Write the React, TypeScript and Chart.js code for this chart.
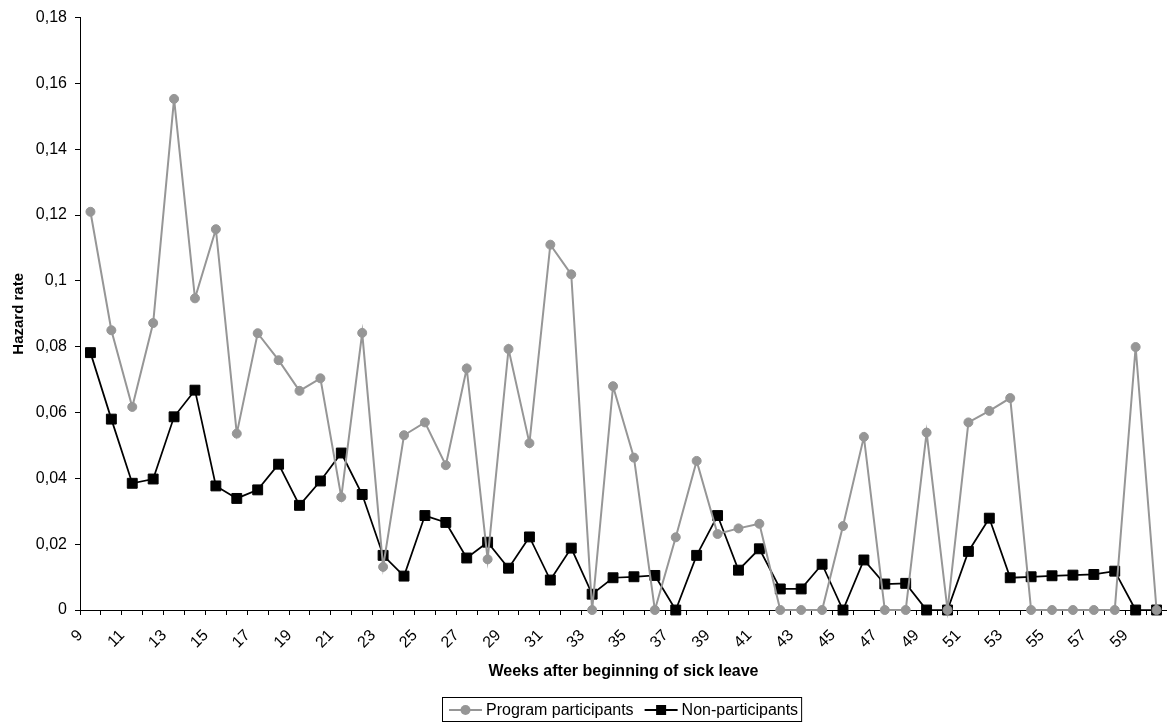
import React, { useEffect, useRef } from 'react';
import { Chart, registerables } from 'chart.js';

Chart.register(...registerables);

const weeks = [
  '9', '10', '11', '12', '13', '14', '15', '16', '17', '18', '19', '20', '21',
  '22', '23', '24', '25', '26', '27', '28', '29', '30', '31', '32', '33', '34',
  '35', '36', '37', '38', '39', '40', '41', '42', '43', '44', '45', '46', '47',
  '48', '49', '50', '51', '52', '53', '54', '55', '56', '57', '58', '59', '60',
];

const shownTicks = [
  '9', '11', '13', '15', '17', '19', '21', '23', '25', '27', '29', '31', '33',
  '35', '37', '39', '41', '43', '45', '47', '49', '51', '53', '55', '57', '59',
];

const participants = [
  0.121, 0.085, 0.0617, 0.0872, 0.1553, 0.0947, 0.1157, 0.0536, 0.0841, 0.0759,
  0.0666, 0.0704, 0.0343, 0.0842, 0.0131, 0.0531, 0.057, 0.044, 0.0734, 0.0154,
  0.0793, 0.0507, 0.111, 0.102, 0, 0.068, 0.0463, 0, 0.0221, 0.0453,
  0.0231, 0.0248, 0.0262, 0, 0, 0, 0.0255, 0.0526, 0, 0,
  0.0539, 0, 0.057, 0.0605, 0.0644, 0, 0, 0, 0, 0,
  0.0799, 0,
];

const nonParticipants = [
  0.0782, 0.058, 0.0385, 0.0398, 0.0587, 0.0668, 0.0377, 0.0339, 0.0365, 0.0443,
  0.0318, 0.0392, 0.0477, 0.0351, 0.0166, 0.0103, 0.0287, 0.0266, 0.0158, 0.0206,
  0.0127, 0.0222, 0.0091, 0.0188, 0.0048, 0.0098, 0.0101, 0.0105, 0, 0.0166,
  0.0287, 0.0121, 0.0186, 0.0064, 0.0064, 0.0139, 0, 0.0152, 0.0079, 0.0081,
  0, 0, 0.0178, 0.0279, 0.0098, 0.0101, 0.0104, 0.0106, 0.0108, 0.0118,
  0, 0,
];

const seriesNames = ['Program participants', 'Non-participants'];
const GRAY = '#969696';
const BLACK = '#000000';
const FONT = '"Liberation Sans", Arial, sans-serif';

const legendPlugin = {
  id: 'boxedLegend',
  afterDraw(chart: any) {
    const ctx = chart.ctx as CanvasRenderingContext2D;
    const area = chart.chartArea;
    ctx.save();
    ctx.font = `16px ${FONT}`;
    const lineW = 33;
    const gap = 4;
    const itemGap = 11;
    const w0 = ctx.measureText(seriesNames[0]).width;
    const w1 = ctx.measureText(seriesNames[1]).width;
    const total = lineW + gap + w0 + itemGap + lineW + gap + w1;
    const cx = (area.left + area.right) / 2;
    let x = Math.round(cx - total / 2);
    const cy = 710;
    ctx.strokeStyle = '#000';
    ctx.lineWidth = 1;
    ctx.strokeRect(x - 6.5, 697.5, total + 10, 24);
    ctx.textBaseline = 'middle';
    ctx.textAlign = 'left';
    ctx.strokeStyle = GRAY;
    ctx.lineWidth = 2;
    ctx.beginPath();
    ctx.moveTo(x, cy);
    ctx.lineTo(x + lineW, cy);
    ctx.stroke();
    ctx.fillStyle = GRAY;
    ctx.beginPath();
    ctx.arc(x + lineW / 2, cy, 5, 0, Math.PI * 2);
    ctx.fill();
    ctx.fillStyle = '#000';
    ctx.fillText(seriesNames[0], x + lineW + gap, cy + 1);
    x += lineW + gap + w0 + itemGap;
    ctx.strokeStyle = BLACK;
    ctx.beginPath();
    ctx.moveTo(x, cy);
    ctx.lineTo(x + lineW, cy);
    ctx.stroke();
    ctx.fillStyle = BLACK;
    ctx.fillRect(x + lineW / 2 - 5, cy - 5, 10, 10);
    ctx.fillText(seriesNames[1], x + lineW + gap, cy + 1);
    ctx.restore();
  },
};

export default function App() {
  const ref = useRef<HTMLCanvasElement | null>(null);

  useEffect(() => {
    document.body.style.margin = '0';
    const canvas = ref.current;
    if (!canvas) return;
    const chart = new Chart(canvas, {
      type: 'line',
      data: {
        labels: weeks,
        datasets: [
          {
            label: seriesNames[0],
            data: participants,
            borderColor: GRAY,
            backgroundColor: GRAY,
            borderWidth: 2,
            pointStyle: 'circle',
            pointRadius: 4.5,
            pointBorderWidth: 1,
            pointBackgroundColor: GRAY,
            pointBorderColor: GRAY,
            tension: 0,
            clip: false,
          },
          {
            label: seriesNames[1],
            data: nonParticipants,
            borderColor: BLACK,
            backgroundColor: BLACK,
            borderWidth: 1.75,
            pointStyle: 'rect',
            pointRadius: 7,
            pointBorderWidth: 1,
            pointBackgroundColor: BLACK,
            pointBorderColor: BLACK,
            tension: 0,
            clip: false,
          },
        ],
      },
      options: {
        animation: false,
        responsive: false,
        maintainAspectRatio: false,
        layout: { autoPadding: false, padding: { top: 17, right: 0, bottom: 0, left: 0 } },
        plugins: {
          legend: { display: false },
          tooltip: { enabled: false },
        },
        scales: {
          x: {
            type: 'category',
            offset: true,
            grid: {
              offset: true,
              drawOnChartArea: false,
              drawTicks: true,
              tickLength: 5,
              color: '#000',
            },
            border: { color: '#000', width: 1 },
            ticks: {
              autoSkip: false,
              minRotation: 45,
              maxRotation: 45,
              padding: 11,
              labelOffset: -10,
              color: '#000',
              font: { family: FONT, size: 16 },
              callback: (_v: any, i: number) =>
                shownTicks.includes(weeks[i]) ? weeks[i] : '',
            },
            title: {
              display: true,
              text: 'Weeks after beginning of sick leave',
              color: '#000',
              font: { family: FONT, size: 16, weight: 'bold' },
              padding: { top: 0, bottom: 41 },
            },
            afterFit: (scale: any) => {
              scale.height = 112;
              scale.paddingRight = 0;
              scale.paddingLeft = 0;
            },
          },
          y: {
            min: 0,
            max: 0.18,
            grid: {
              drawOnChartArea: false,
              drawTicks: true,
              tickLength: 5,
              color: '#000',
            },
            border: { color: '#000', width: 1 },
            ticks: {
              stepSize: 0.02,
              padding: 8,
              color: '#000',
              font: { family: FONT, size: 16 },
              callback: (v: any) => {
                const n = Math.round(Number(v) * 100) / 100;
                return String(n).replace('.', ',');
              },
            },
            title: {
              display: true,
              text: 'Hazard rate',
              color: '#000',
              font: { family: FONT, size: 15, weight: 'bold' },
              padding: { top: 10, bottom: 0 },
            },
            afterFit: (scale: any) => {
              scale.width = 80;
            },
          },
        },
      },
      plugins: [legendPlugin],
    });
    return () => chart.destroy();
  }, []);

  return (
    <div style={{ width: 1167, height: 722 }}>
      <canvas ref={ref} width={1167} height={722} style={{ display: 'block' }} />
    </div>
  );
}
